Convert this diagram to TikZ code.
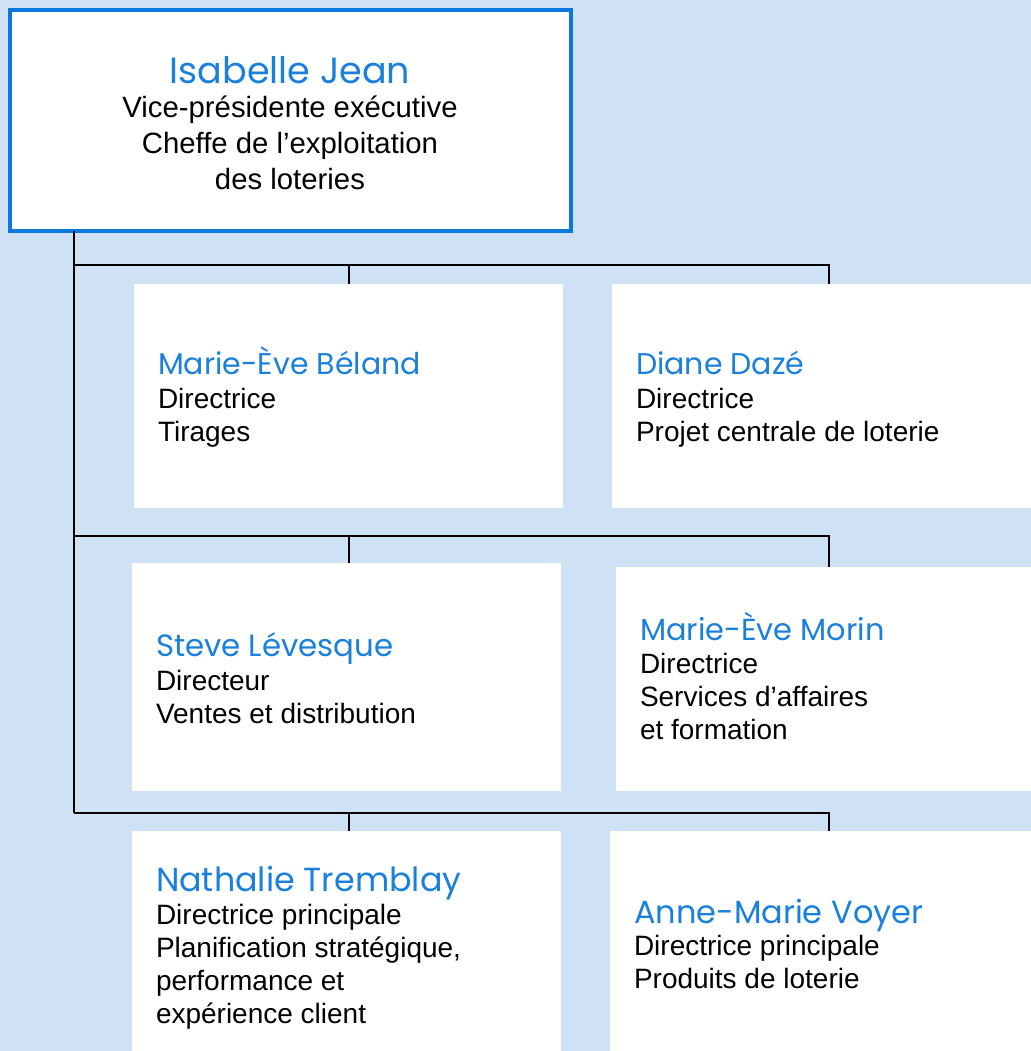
\documentclass[tikz,border=0pt]{standalone}
\usepackage{fontspec}
\setmainfont{Liberation Sans}
\newfontfamily\namefont{Poppins}
\definecolor{bgblue}{HTML}{CFE2F5}
\definecolor{frameblue}{HTML}{0A78DC}
\definecolor{nameblue}{HTML}{1A80DC}
\begin{document}
\begin{tikzpicture}[x=0.75pt,y=-0.75pt]
 \tikzstyle{every node}=[inner sep=0pt,outer sep=0pt];
    \tikzstyle{orgbox}=[fill=white,anchor=north west];
    \tikzstyle{persname}=[anchor=base west,text=nameblue,font=\namefont\fontsize{22.5}{27}\selectfont];
    \tikzstyle{bigname}=[persname,font=\namefont\fontsize{24.6}{29}\selectfont];
    \tikzstyle{roletext}=[anchor=base west,align=left,font=\fontsize{21}{24.75}\selectfont];
    \tikzstyle{link}=[draw,black,line width=1.1pt];
    \fill[bgblue] (0,0) rectangle (1031,1051);
    \useasboundingbox (0,0) rectangle (1031,1051);
    % boxes
    \node at (10,10) (vp) [orgbox,draw=frameblue,line width=3pt,minimum width=420.75pt,minimum height=165.75pt] {};
    \node at (134,284) (b1) [orgbox,minimum width=321.75pt,minimum height=168pt] {};
    \node at (612,284) (b2) [orgbox,minimum width=314.25pt,minimum height=168pt] {};
    \node at (132,563) (b3) [orgbox,minimum width=321.75pt,minimum height=171pt] {};
    \node at (616,567) (b4) [orgbox,minimum width=311.25pt,minimum height=168pt] {};
    \node at (132,831) (b5) [orgbox,minimum width=321.75pt,minimum height=165pt] {};
    \node at (610,831) (b6) [orgbox,minimum width=315.75pt,minimum height=165pt] {};
    % texts (role nodes sit on the baseline of their last line)
    \node at (290,83) (vpn) [persname,anchor=base,font=\namefont\fontsize{27.4}{32}\selectfont] {Isabelle Jean};
    \node at (290,189) (vpr) [roletext,anchor=base,align=center,font=\fontsize{22}{27}\selectfont] {Vice-présidente exécutive\\Cheffe de l’exploitation\\des loteries};
    \node at (158,374) (b1n) [persname] {Marie-Ève Béland};
    \node at (158,441) (b1r) [roletext] {Directrice\\Tirages};
    \node at (636,374) (b2n) [persname] {Diane Dazé};
    \node at (636,441) (b2r) [roletext] {Directrice\\Projet centrale de loterie};
    \node at (156,656) (b3n) [persname,font=\namefont\fontsize{23.1}{27}\selectfont] {Steve Lévesque};
    \node at (156,723) (b3r) [roletext] {Directeur\\Ventes et distribution};
    \node at (640,640) (b4n) [persname,font=\namefont\fontsize{22.8}{27}\selectfont] {Marie-Ève Morin};
    \node at (640,739) (b4r) [roletext] {Directrice\\Services d’affaires\\et formation};
    \node at (156,891) (b5n) [bigname,font=\namefont\fontsize{25}{29}\selectfont] {Nathalie Tremblay};
    \node at (156,1023) (b5r) [roletext] {Directrice principale\\Planification stratégique,\\performance et\\expérience client};
    \node at (634,923) (b6n) [bigname,font=\namefont\fontsize{24}{29}\selectfont] {Anne-Marie Voyer};
    \node at (634,988) (b6r) [roletext] {Directrice principale\\Produits de loterie};
    % connectors
    \coordinate (j1) at (74,265);
    \coordinate (j2) at (74,536);
    \coordinate (j3) at (74,813);
    \coordinate (m1) at (349,265);
    \coordinate (m2) at (349,536);
    \coordinate (m3) at (349,813);
    \coordinate (e1) at (829,265);
    \coordinate (e2) at (829,536);
    \coordinate (e3) at (829,813);
    \path[link] (vp.south -| j1) -- (j3);
    \path[link] (j1) -- (e1) -- (e1 |- b2.north);
    \path[link] (m1) -- (m1 |- b1.north);
    \path[link] (j2) -- (e2) -- (e2 |- b4.north);
    \path[link] (m2) -- (m2 |- b3.north);
    \path[link] (j3) -- (e3) -- (e3 |- b6.north);
    \path[link] (m3) -- (m3 |- b5.north);
\end{tikzpicture}
\end{document}
